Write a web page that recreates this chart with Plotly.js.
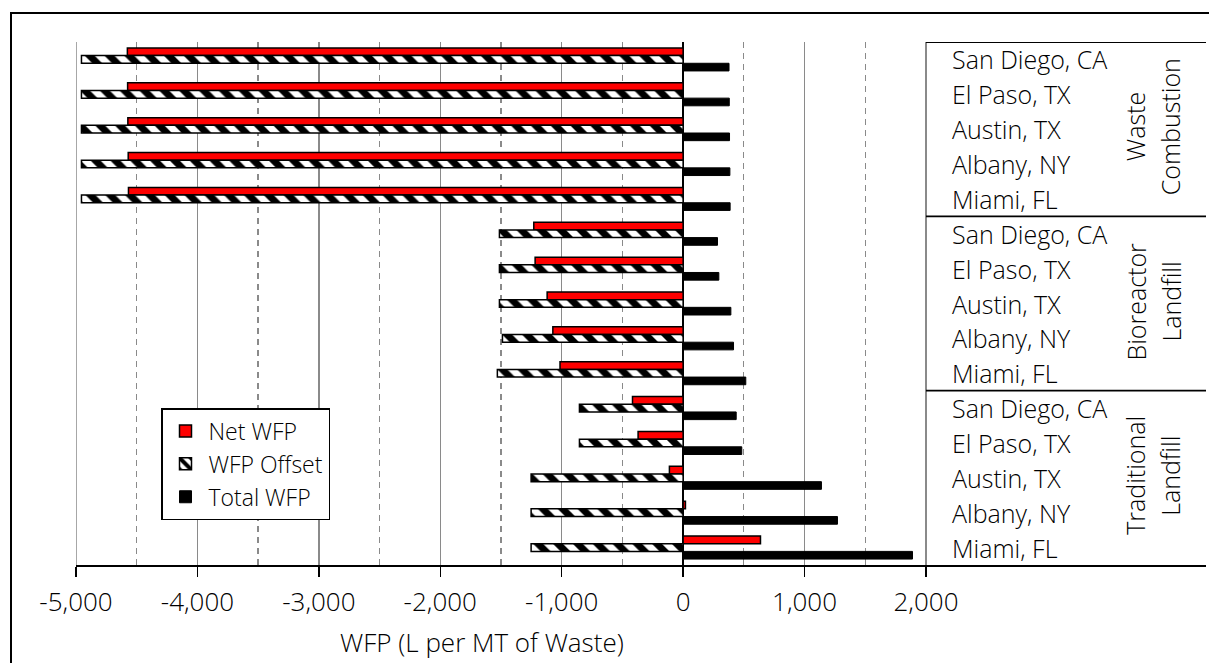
<!DOCTYPE html>
<html>
<head>
<meta charset="utf-8">
<script src="https://cdn.plot.ly/plotly-3.0.1.min.js"></script>
<style>
  html, body { margin: 0; padding: 0; background: #fff; }
  #chart { width: 1209px; height: 663px; }
</style>
</head>
<body>
<div id="chart"></div>
<script>
// ---- data (top to bottom) ----
const cities = ["San Diego, CA", "El Paso, TX", "Austin, TX", "Albany, NY", "Miami, FL"];
const groups = [["Waste", "Combustion"], ["Bioreactor", "Landfill"], ["Traditional", "Landfill"]];
const seriesNames = ["Net WFP", "WFP Offset", "Total WFP"];

const netWFP = [-4577, -4575, -4573, -4570, -4568,
                -1230, -1219, -1120, -1073, -1014,
                -417, -371, -113, 19, 637];
const offsetWFP = [-4955, -4955, -4955, -4955, -4955,
                   -1513, -1513, -1513, -1488, -1530,
                   -854, -854, -1252, -1252, -1252];
const totalWFP = [378, 380, 382, 385, 387,
                  283, 294, 393, 415, 516,
                  437, 483, 1139, 1271, 1889];

const tickValues = [-5000, -4000, -3000, -2000, -1000, 0, 1000, 2000];
const tickLabels = ["-5,000", "-4,000", "-3,000", "-2,000", "-1,000", "0", "1,000", "2,000"];
const minorValues = [-4500, -3500, -2500, -1500, -500, 500, 1500];
const xTitle = "WFP (L per MT of Waste)";

// ---- build rows ----
const rowLabels = [];
groups.forEach(g => cities.forEach(c => rowLabels.push(c)));
const ypos = rowLabels.map((_, i) => i);

const FONT = "Open Sans, sans-serif";
const W = 300;
const f = (size) => ({ family: FONT, size: size, color: "#000", weight: W });

const traces = [
  {
    type: "bar", orientation: "h", name: seriesNames[0],
    x: netWFP, y: ypos,
    marker: { color: "#ff0000", line: { color: "#000", width: 1.5 } }
  },
  {
    type: "bar", orientation: "h", name: seriesNames[1],
    x: offsetWFP, y: ypos,
    marker: {
      color: "#ffffff",
      line: { color: "#000", width: 1.5 },
      pattern: { shape: "\\", fgcolor: "#000", bgcolor: "#fff", size: 14, solidity: 0.5 }
    }
  },
  {
    type: "bar", orientation: "h", name: seriesNames[2],
    x: totalWFP, y: ypos,
    marker: { color: "#000000", line: { color: "#000", width: 1 } }
  }
];

const xMin = -5000, xMax = 4306;
const nRows = rowLabels.length;
const px = (p) => (p - 76) / 1130;          // pixel x -> paper x
const py = (p) => 1 - (p - 42) / 523;       // pixel y -> paper y

const shapes = [];
// left gridline at the axis minimum
shapes.push({ type: "line", xref: "x", yref: "paper", x0: xMin, x1: xMin, y0: 0, y1: 1,
              line: { color: "#8a8a8a", width: 1.5 }, layer: "below" });
// table border lines (group separators) in the label area
[-0.5, 4.5, 9.5].forEach(b => {
  shapes.push({ type: "line", xref: "x", yref: "y", x0: 2000, x1: xMax, y0: b, y1: b,
                line: { color: "#000", width: 1.8 } });
});
// outer frame of the figure
shapes.push({ type: "rect", xref: "paper", yref: "paper",
              x0: px(11), x1: 1.2, y0: py(13), y1: -0.3,
              line: { color: "#000", width: 2 }, fillcolor: "rgba(0,0,0,0)", layer: "above" });

const annotations = [];
rowLabels.forEach((lab, i) => {
  annotations.push({ xref: "x", yref: "y", x: 2000, y: i, text: lab, showarrow: false,
                     xanchor: "left", yanchor: "middle", xshift: 24, yshift: 0,
                     font: f(25) });
});
const groupLineX = [1135, 1170];
groups.forEach((g, k) => {
  g.forEach((line, j) => {
    annotations.push({ xref: "paper", yref: "y", x: px(groupLineX[j]), y: k * 5 + 2, text: line,
                       showarrow: false, textangle: -90, xanchor: "center", yanchor: "middle",
                       yshift: 2, font: f(25) });
  });
});
annotations.push({ xref: "paper", yref: "paper", x: px(482), y: py(642),
                   text: xTitle, showarrow: false,
                   xanchor: "center", yanchor: "middle", font: f(26) });

const layout = {
  width: 1209, height: 663,
  margin: { l: 76, r: 3, t: 42, b: 98 },
  paper_bgcolor: "#fff", plot_bgcolor: "#fff",
  barmode: "group", bargap: 0.34, bargroupgap: 0,
  font: f(24),
  showlegend: true,
  legend: {
    x: px(161), y: py(408), xanchor: "left", yanchor: "top",
    bgcolor: "#fff", bordercolor: "#000", borderwidth: 1.5,
    font: f(23),
    tracegroupgap: 0, itemwidth: 36
  },
  xaxis: {
    range: [xMin, xMax], tickmode: "array", tickvals: tickValues, ticktext: tickLabels,
    showgrid: true, gridcolor: "#8a8a8a", gridwidth: 1.3,
    minor: { tickmode: "array", tickvals: minorValues, showgrid: true, gridcolor: "#8a8a8a",
             gridwidth: 1.3, griddash: "6px,5px", ticks: "" },
    zeroline: true, zerolinecolor: "#000", zerolinewidth: 1.5,
    showline: true, linecolor: "#000", linewidth: 2,
    ticks: "outside", ticklen: 10, tickwidth: 1.5, tickcolor: "#000",
    ticklabelstandoff: 3,
    tickfont: f(26),
    fixedrange: true
  },
  yaxis: {
    range: [nRows - 0.5, -0.5], showticklabels: false, showgrid: false, zeroline: false,
    showline: false, ticks: "", fixedrange: true
  },
  shapes: shapes,
  annotations: annotations
};

Plotly.newPlot("chart", traces, layout, { displayModeBar: false, staticPlot: true });
</script>
</body>
</html>
